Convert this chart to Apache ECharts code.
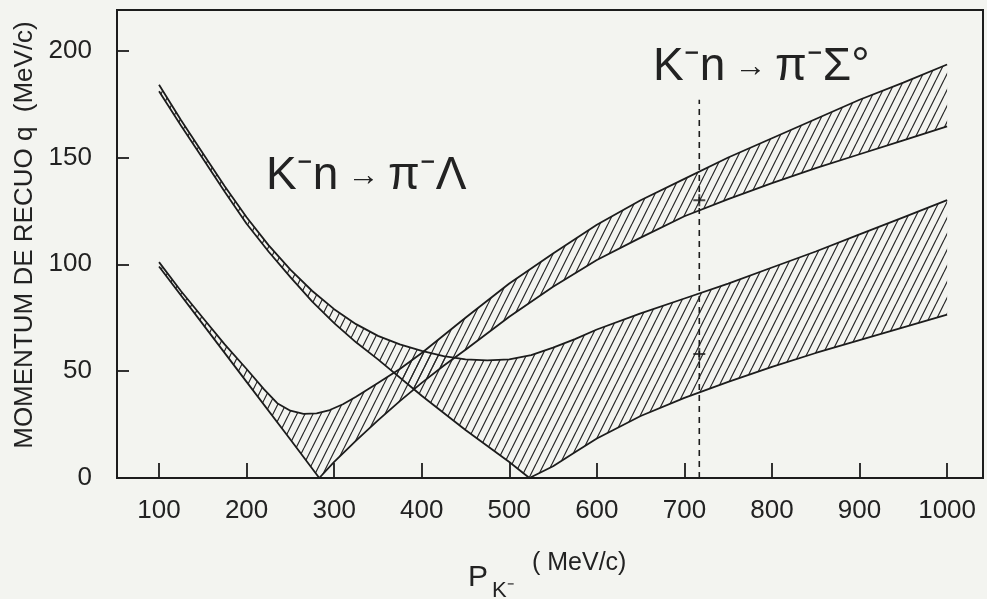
<!DOCTYPE html>
<html>
<head>
<meta charset="utf-8">
<script src="https://cdn.jsdelivr.net/npm/echarts@6/dist/echarts.min.js"></script>
<style>
  html, body { margin: 0; padding: 0; background: #f3f4f0; }
  #chart { width: 987px; height: 599px; }
</style>
</head>
<body>
<div id="chart"></div>
<script>
// Tick positions on both axes
const xTicks = [100, 200, 300, 400, 500, 600, 700, 800, 900, 1000];
const yTicks = [0, 50, 100, 150, 200];

// K-n -> pi- Lambda : recoil momentum band (upper and lower edge), [p_K, q]
const lambdaHigh = [[100,184],[125,167.5],[150,152],[175,136.5],[200,122],[225,109],[250,97.5],[275,87.5],[300,79],[325,72],[350,66.5],[375,62.5],[400,59.5],[425,57],[450,55.5],[475,55],[500,55.5],[525,57.5],[550,61],[575,65],[600,69.5],[650,77],[700,84],[750,91],[800,98.5],[850,106],[900,114],[950,122],[1000,130]];
const lambdaLow  = [[100,181],[125,165],[150,149.5],[175,134],[200,119],[225,106],[250,94],[275,82.5],[300,72.5],[325,63.5],[350,55.5],[400,38.5],[450,22.5],[500,7.5],[523,0],[550,5.5],[575,12],[600,18.5],[650,29],[700,37.5],[750,45],[800,52],[850,58.5],[900,64.5],[950,70.5],[1000,76.5]];

// K-n -> pi- Sigma0 : recoil momentum band
const sigmaHigh = [[100,101],[125,87.5],[150,75],[175,62.5],[200,51],[220,41.5],[235,35],[250,31.5],[265,30],[280,30.2],[295,31.8],[310,34.5],[325,38],[350,44.5],[375,51],[400,58.5],[450,75],[500,91],[550,105],[600,118.5],[650,130],[700,140],[750,150],[800,159],[850,168],[900,177],[950,185],[1000,193.5]];
const sigmaLow  = [[100,99],[150,72],[200,45],[250,18],[283,0],[300,7.5],[325,17.5],[350,27],[375,36],[400,44.5],[425,52.5],[450,60],[500,75.5],[550,89.5],[600,102],[650,112.5],[700,122.5],[750,130.5],[800,138],[850,145],[900,151.5],[950,158],[1000,164.5]];

// Reference momentum (dashed line) and the two marked points on it
const refLine = [[717,0],[717,177]];
const refMarks = [[717,130],[717,58]];

const xTitleMain = 'P';
const xTitleSub = 'K⁻';
const xTitleUnit = '( MeV/c)';
const yTitle = 'MOMENTUM DE RECUO q  (MeV/c)';
const labelLambda = ['K⁻n', '→', 'π⁻Λ'];
const labelSigma = ['K⁻n', '→', 'π⁻Σ°'];

const INK = '#1c1c1c';
const FONT = '"Liberation Sans", Arial, sans-serif';

function makeHatch() {
  const w = 8, h = 16;
  const c = document.createElement('canvas');
  c.width = w; c.height = h;
  const ctx = c.getContext('2d');
  ctx.strokeStyle = '#262626';
  ctx.lineWidth = 1.2;
  ctx.beginPath();
  for (let k = -1; k <= 1; k++) {
    ctx.moveTo(k * w, h);
    ctx.lineTo((k + 1) * w, 0);
  }
  ctx.stroke();
  return c;
}
const hatch = { type: 'pattern', image: makeHatch(), repeat: 'repeat' };

function bandSeries(upper, lower) {
  return {
    type: 'custom',
    coordinateSystem: 'cartesian2d',
    silent: true,
    z: 2,
    data: [upper[0]],
    renderItem: function (params, api) {
      const pts = upper.map(p => api.coord(p))
        .concat(lower.slice().reverse().map(p => api.coord(p)));
      return {
        type: 'polygon',
        shape: { points: pts },
        style: { fill: hatch, stroke: null }
      };
    }
  };
}

function edgeSeries(data) {
  return {
    type: 'line',
    data: data,
    showSymbol: false,
    silent: true,
    z: 3,
    lineStyle: { color: INK, width: 1.8 }
  };
}

function reactionLabel(parts, left, cy) {
  return {
    type: 'text',
    x: left, y: cy,
    style: {
      text: '{a|' + parts[0] + '}{b| ' + parts[1] + ' }{a|' + parts[2] + '}',
      textVerticalAlign: 'middle',
      rich: {
        a: { fontSize: 46, fontFamily: FONT, fill: '#222' },
        b: { fontSize: 32, fontFamily: FONT, fill: '#222', verticalAlign: 'middle' }
      }
    }
  };
}

const chart = echarts.init(document.getElementById('chart'), null, { renderer: 'canvas' });
chart.setOption({
  animation: false,
  backgroundColor: '#f3f4f0',
  grid: {
    left: 117, right: 4, top: 10, bottom: 121,
    show: true, borderColor: INK, borderWidth: 2, backgroundColor: 'transparent'
  },
  xAxis: {
    type: 'value', min: 52, max: 1041,
    axisLine: { show: false },
    splitLine: { show: false },
    axisTick: { show: true, inside: true, length: 15, customValues: xTicks, lineStyle: { color: INK, width: 1.8 } },
    axisLabel: { customValues: xTicks, fontSize: 26, fontFamily: FONT, color: '#222', margin: 20, formatter: v => String(v) }
  },
  yAxis: {
    type: 'value', min: 0, max: 219,
    axisLine: { show: false },
    splitLine: { show: false },
    axisTick: { show: true, inside: true, length: 12, customValues: yTicks, lineStyle: { color: INK, width: 1.8 } },
    axisLabel: { customValues: yTicks, fontSize: 26, fontFamily: FONT, color: '#222', margin: 25, formatter: v => String(v) }
  },
  graphic: [
    {
      type: 'text', x: 25, y: 235, rotation: Math.PI / 2,
      style: { text: yTitle, fontSize: 26, fontFamily: FONT, fill: '#222', textAlign: 'center', textVerticalAlign: 'middle' }
    },
    { type: 'text', x: 468, y: 578, style: { text: xTitleMain, fontSize: 30, fontFamily: FONT, fill: '#222', textVerticalAlign: 'middle' } },
    { type: 'text', x: 492, y: 591, style: { text: xTitleSub, fontSize: 22, fontFamily: FONT, fill: '#222', textVerticalAlign: 'middle' } },
    { type: 'text', x: 532, y: 563, style: { text: xTitleUnit, fontSize: 25, fontFamily: FONT, fill: '#222', textVerticalAlign: 'middle' } },
    reactionLabel(labelLambda, 266, 176),
    reactionLabel(labelSigma, 653, 67)
  ],
  series: [
    bandSeries(lambdaHigh, lambdaLow),
    bandSeries(sigmaHigh, sigmaLow),
    edgeSeries(lambdaHigh),
    edgeSeries(lambdaLow),
    edgeSeries(sigmaHigh),
    edgeSeries(sigmaLow),
    {
      type: 'line',
      data: refLine,
      showSymbol: false,
      silent: true,
      z: 4,
      lineStyle: { color: INK, width: 1.6, type: [6, 5] }
    },
    {
      type: 'scatter',
      data: refMarks,
      silent: true,
      z: 5,
      symbol: 'path://M4.2,0H5.8V10H4.2Z M0,4.2H10V5.8H0Z',
      symbolSize: 12,
      itemStyle: { color: INK }
    }
  ]
});
</script>
</body>
</html>
